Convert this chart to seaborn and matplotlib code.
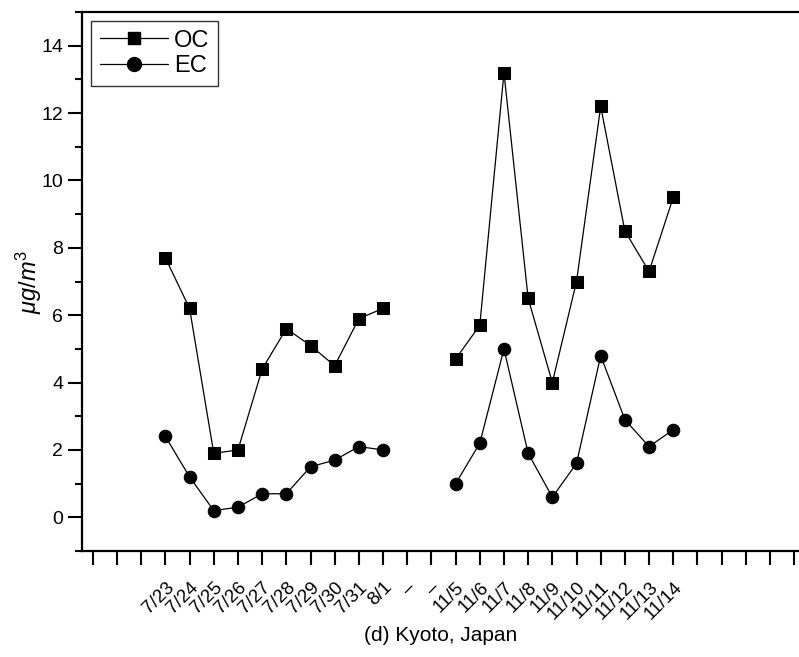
import numpy as np
import pandas as pd
import matplotlib
matplotlib.use("Agg")
import matplotlib.pyplot as plt
import seaborn as sns
from matplotlib.lines import Line2D

dates_jul = ['7/23', '7/24', '7/25', '7/26', '7/27', '7/28', '7/29', '7/30', '7/31', '8/1']
dates_nov = ['11/5', '11/6', '11/7', '11/8', '11/9', '11/10', '11/11', '11/12', '11/13', '11/14']
oc_jul = [7.7, 6.2, 1.9, 2.0, 4.4, 5.6, 5.1, 4.5, 5.9, 6.2]
oc_nov = [4.7, 5.7, 13.2, 6.5, 4.0, 7.0, 12.2, 8.5, 7.3, 9.5]
ec_jul = [2.4, 1.2, 0.2, 0.3, 0.7, 0.7, 1.5, 1.7, 2.1, 2.0]
ec_nov = [1.0, 2.2, 5.0, 1.9, 0.6, 1.6, 4.8, 2.9, 2.1, 2.6]
tick_labels = [''] * 3 + dates_jul + ['\u2013', '\u2013'] + dates_nov + [''] * 5

sns.set_theme(style="white")
plt.rcParams['font.family'] = ['Liberation Sans', 'DejaVu Sans']
plt.rcParams['mathtext.fontset'] = 'custom'
plt.rcParams['mathtext.it'] = 'Liberation Sans:italic'
plt.rcParams['mathtext.rm'] = 'Liberation Sans'
for k in ['text.color', 'axes.labelcolor', 'xtick.color', 'ytick.color', 'axes.edgecolor']:
    plt.rcParams[k] = 'black'

rows = []
for lab, v in zip(dates_jul, oc_jul):
    rows.append(dict(x=tick_labels.index(lab), y=v, series='OC', period='jul'))
for lab, v in zip(dates_nov, oc_nov):
    rows.append(dict(x=tick_labels.index(lab), y=v, series='OC', period='nov'))
for lab, v in zip(dates_jul, ec_jul):
    rows.append(dict(x=tick_labels.index(lab), y=v, series='EC', period='jul'))
for lab, v in zip(dates_nov, ec_nov):
    rows.append(dict(x=tick_labels.index(lab), y=v, series='EC', period='nov'))
df = pd.DataFrame(rows)

fig = plt.figure(figsize=(7.99, 6.57), dpi=100)
ax = fig.add_axes([0.1026, 0.1613, 0.8974, 0.8204])

markers = {'OC': 's', 'EC': 'o'}
for s in ['OC', 'EC']:
    sub = df[df.series == s]
    sns.lineplot(data=sub, x='x', y='y', units='period', estimator=None,
                 color='black', linewidth=0.9, marker=markers[s],
                 markersize=8 if s == 'OC' else 9, markeredgecolor='black',
                 markerfacecolor='black', ax=ax, legend=False)

ax.set_xlim(-0.45, 29.2)
ax.set_ylim(-1, 15)
ax.set_xticks(range(len(tick_labels)))
ax.set_xticklabels(tick_labels, rotation=45, ha='right', rotation_mode='anchor', fontsize=13.5)
ax.set_yticks(range(0, 15, 2))
ax.set_yticks(range(-1, 16, 2), minor=True)
ax.tick_params(axis='y', which='major', direction='out', length=10, width=1.5, labelsize=14, left=True)
ax.tick_params(axis='y', which='minor', direction='out', length=5, width=1.5, left=True)
ax.tick_params(axis='x', which='major', direction='out', length=10, width=1.5, bottom=True, pad=10)
for side in ['left', 'bottom', 'top']:
    ax.spines[side].set_linewidth(1.6)
    ax.spines[side].set_color('black')
ax.spines['right'].set_visible(False)

ax.set_xlabel('(d) Kyoto, Japan', fontsize=15, labelpad=2)
ax.set_ylabel(r'$\mu g/m^3$', fontsize=17, labelpad=-2)

handles = [Line2D([], [], color='black', lw=0.9, marker='s', markersize=9),
           Line2D([], [], color='black', lw=0.9, marker='o', markersize=10)]
leg = ax.legend(handles, ['OC', 'EC'], loc='upper left', fontsize=17, handlelength=2.9,
                frameon=True, fancybox=False, edgecolor='black', borderaxespad=0.4,
                labelspacing=0.15, handletextpad=0.25, borderpad=0.35)
leg.get_frame().set_linewidth(1.0)

fig.savefig('out.png', dpi=100)
